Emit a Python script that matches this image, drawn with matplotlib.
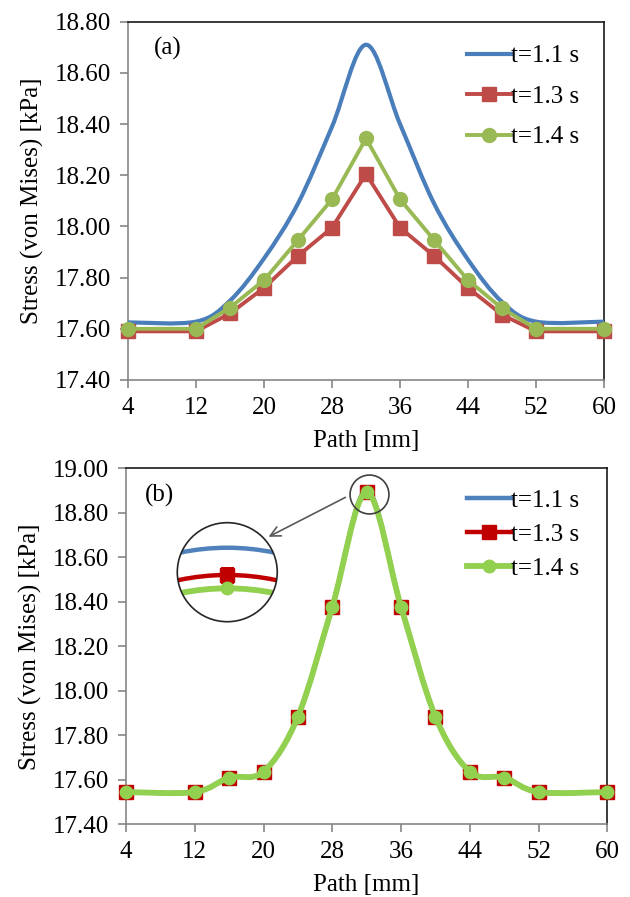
"""Stress along path, two panels (a) and (b)."""
import matplotlib
matplotlib.use('Agg')
import matplotlib.pyplot as plt
import numpy as np
from matplotlib.path import Path
from matplotlib.patches import PathPatch, Ellipse
from matplotlib.lines import Line2D

plt.rcParams['font.family'] = ['Liberation Serif', 'DejaVu Serif']

# data
path_mm = [4, 12, 16, 20, 24, 28, 32, 36, 40, 44, 48, 52, 60]
x_ticks = [4, 12, 20, 28, 36, 44, 52, 60]
labels = ['t=1.1 s', 't=1.3 s', 't=1.4 s']

a_t11 = [17.625, 17.628, 17.71, 17.875, 18.09, 18.39, 18.71,
         18.40, 18.09, 17.87, 17.705, 17.628, 17.628]
a_t13 = [17.59, 17.59, 17.66, 17.76, 17.885, 17.995, 18.205,
         17.995, 17.885, 17.76, 17.655, 17.59, 17.59]
a_t14 = [17.60, 17.60, 17.683, 17.79, 17.947, 18.106, 18.344,
         18.106, 17.947, 17.79, 17.68, 17.60, 17.60]

b_t11 = [17.545, 17.545, 17.61, 17.637, 17.884, 18.378, 18.900,
         18.378, 17.884, 17.637, 17.61, 17.545, 17.545]
b_t13 = [17.545, 17.545, 17.61, 17.637, 17.884, 18.378, 18.8945,
         18.378, 17.884, 17.637, 17.61, 17.545, 17.545]
b_t14 = [17.545, 17.545, 17.61, 17.637, 17.884, 18.378, 18.8918,
         18.378, 17.884, 17.637, 17.61, 17.545, 17.545]

A_COLORS = ['#4A7EBB', '#BE4B48', '#98B954']
B_COLORS = ['#4F81BD', '#C00000', '#92D050']
FS = 18


def smooth_path(x, y):
    """Excel-like smoothed line as a cubic bezier path."""
    pts = np.column_stack([x, y]).astype(float)
    n = len(pts)
    verts = [pts[0]]
    codes = [Path.MOVETO]
    for i in range(n - 1):
        p_prev = pts[max(i - 1, 0)]
        p0, p1 = pts[i], pts[i + 1]
        p_next = pts[min(i + 2, n - 1)]
        verts += [p0 + (p1 - p_prev) / 6, p1 - (p_next - p0) / 6, p1]
        codes += [Path.CURVE4] * 3
    return Path(verts, codes)


def add_smooth(ax, x, y, color, lw, zorder):
    patch = PathPatch(smooth_path(x, y), fill=False, edgecolor=color,
                      lw=lw, capstyle='round', joinstyle='round',
                      zorder=zorder)
    ax.add_patch(patch)
    return patch


def style_axes(ax, ylim, letter, letter_x):
    ax.set_xlim(4, 60)
    ax.set_ylim(*ylim)
    ax.set_xticks(x_ticks)
    ax.set_yticks(np.arange(ylim[0], ylim[1] + 0.01, 0.2))
    ax.yaxis.set_major_formatter(plt.FormatStrFormatter('%.2f'))
    for side in ['left', 'bottom']:
        ax.spines[side].set_color('#868686')
        ax.spines[side].set_linewidth(1.2)
    for side in ['top', 'right']:
        ax.spines[side].set_color('#1a1a1a')
        ax.spines[side].set_linewidth(1.2)
    ax.tick_params(direction='out', length=6, width=1.2, color='#868686',
                   labelsize=FS, pad=6)
    ax.set_xlabel('Path [mm]', fontsize=FS, labelpad=8)
    ax.set_ylabel('Stress (von Mises) [kPa]', fontsize=FS, labelpad=8)
    ax.text(letter_x, 0.925, letter, transform=ax.transAxes, fontsize=FS,
            ha='center', va='center')


fig = plt.figure(figsize=(6.3, 8.97), dpi=100)
ax_a = fig.add_axes([0.2032, 0.5764, 0.7556, 0.3994])
ax_b = fig.add_axes([0.2000, 0.0810, 0.7640, 0.3969])

# panel (a)
add_smooth(ax_a, path_mm, a_t11, A_COLORS[0], 3.0, 3)
ax_a.plot(path_mm, a_t13, color=A_COLORS[1], lw=2.8, marker='s', ms=10.5,
          zorder=4, clip_on=False)
ax_a.plot(path_mm, a_t14, color=A_COLORS[2], lw=2.8, marker='o', ms=10,
          zorder=5, clip_on=False)
style_axes(ax_a, (17.40, 18.80), '(a)', 0.084)
handles_a = [Line2D([], [], color=A_COLORS[0], lw=3),
             Line2D([], [], color=A_COLORS[1], lw=2.8, marker='s', ms=10.5),
             Line2D([], [], color=A_COLORS[2], lw=2.8, marker='o', ms=10)]
ax_a.legend(handles_a, labels, loc='upper left', bbox_to_anchor=(0.712, 0.935),
            frameon=False, fontsize=FS, handlelength=1.75, handletextpad=0.0,
            labelspacing=0.72, borderaxespad=0, borderpad=0)


def draw_b(ax, clip=None):
    arts = []
    arts.append(add_smooth(ax, path_mm, b_t11, B_COLORS[0], 3.2, 3))
    arts.append(add_smooth(ax, path_mm, b_t13, B_COLORS[1], 3.2, 4))
    arts += ax.plot(path_mm, b_t13, ls='none', marker='s', ms=9.5,
                    color=B_COLORS[1], zorder=5, clip_on=False)
    arts.append(add_smooth(ax, path_mm, b_t14, B_COLORS[2], 4.2, 6))
    arts += ax.plot(path_mm, b_t14, ls='none', marker='o', ms=9,
                    color=B_COLORS[2], zorder=7, clip_on=False)
    if clip is not None:
        for art in arts:
            art.set_clip_on(True)
            art.set_clip_path(clip)
    return arts


# panel (b)
draw_b(ax_b)
style_axes(ax_b, (17.40, 19.00), '(b)', 0.069)
handles_b = [Line2D([], [], color=B_COLORS[0], lw=3.2),
             Line2D([], [], color=B_COLORS[1], lw=3.2, marker='s', ms=9.5),
             Line2D([], [], color=B_COLORS[2], lw=4.2, marker='o', ms=9)]
ax_b.legend(handles_b, labels, loc='upper left', bbox_to_anchor=(0.708, 0.94),
            frameon=False, fontsize=FS, handlelength=1.75, handletextpad=0.0,
            labelspacing=0.45, borderaxespad=0, borderpad=0)

# small circle around the peak and arrow to the zoom
ax_b.plot([32.3], [18.885], marker='o', ms=28, mfc='none', mec='#404040',
          mew=1.2, zorder=8, clip_on=False)
ax_b.annotate('', xy=(0.291, 0.804), xycoords='axes fraction',
              xytext=(0.461, 0.922), textcoords='axes fraction',
              arrowprops=dict(arrowstyle='->', color='#595959', lw=1.2,
                              mutation_scale=18))

# magnified view of the peak
ax_z = fig.add_axes([0.2814, 0.3069, 0.1587, 0.1104], zorder=10)
ax_z.set_axis_off()
ax_z.set_xlim(31.87, 32.13)
ax_z.set_ylim(18.88506, 18.90506)
ring = Ellipse((0.5, 0.5), 1.0, 1.0, transform=ax_z.transAxes,
               facecolor='white', edgecolor='none', zorder=1)
ax_z.add_patch(ring)
clip = Ellipse((0.5, 0.5), 1.0, 1.0, transform=ax_z.transAxes,
               facecolor='none', edgecolor='none')
ax_z.add_patch(clip)
draw_b(ax_z, clip=clip)
edge = Ellipse((0.5, 0.5), 1.0, 1.0, transform=ax_z.transAxes,
               facecolor='none', edgecolor='#262626', lw=1.2, zorder=20,
               clip_on=False)
ax_z.add_patch(edge)

fig.savefig('out.png', dpi=100)
